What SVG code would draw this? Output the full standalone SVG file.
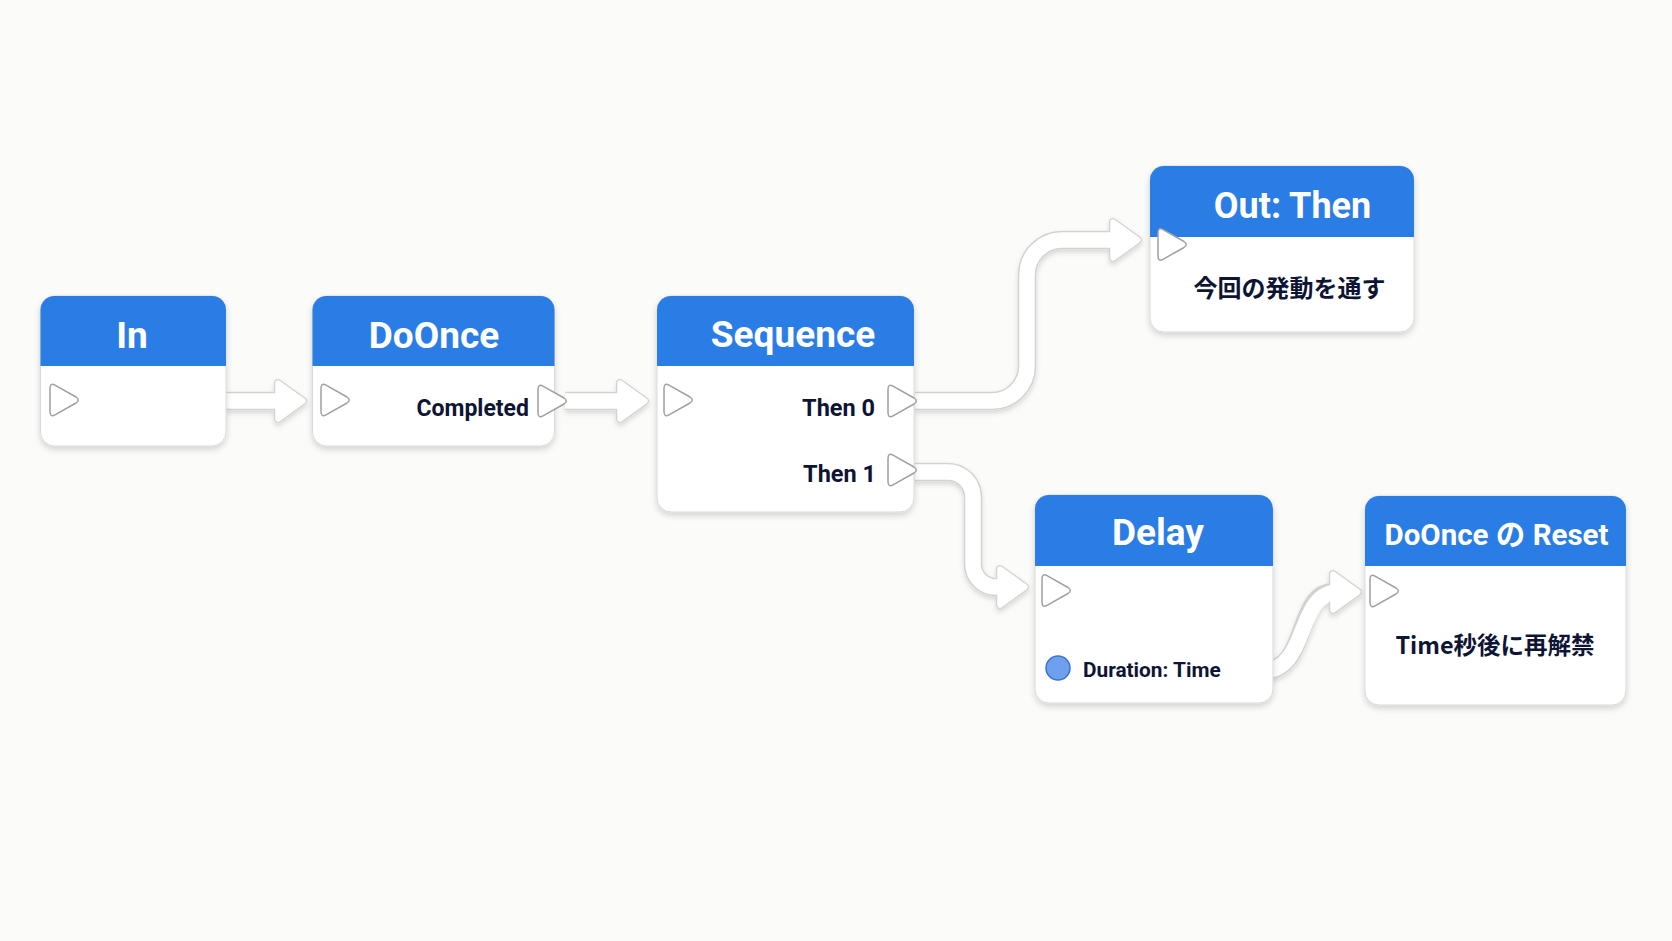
<svg xmlns="http://www.w3.org/2000/svg" xmlns:xlink="http://www.w3.org/1999/xlink" width="1672" height="941" viewBox="0 0 1672 941">
<style>
.bg{fill:#fbfbfa}
.body{fill:#ffffff;stroke:#d9d9d9;stroke-width:1}
.hdr{fill:#2b7de6}
.title{font-family:Roboto,"Noto Sans CJK JP",sans-serif;font-weight:700;fill:#ffffff;text-anchor:middle}
.lbl{font-family:Roboto,"Noto Sans CJK JP",sans-serif;font-weight:700;fill:#0e1534}
.jp{font-family:"Noto Sans CJK JP",sans-serif;font-weight:700;fill:#0e1534;text-anchor:middle}
.pin{fill:#ffffff;stroke:#a0a0a0;stroke-width:1.5;stroke-linejoin:round}
.wo{fill:none;stroke:#d2d2d2;stroke-width:18.5;stroke-linecap:butt}
.wi{fill:none;stroke:#ffffff;stroke-width:15.5;stroke-linecap:butt}
.ho{fill:#d2d2d2;stroke:#d2d2d2;stroke-width:8;stroke-linejoin:round}
.hi{fill:#ffffff;stroke:#ffffff;stroke-width:5.5;stroke-linejoin:round}
</style>
<defs>
<filter id="sh" x="-20%" y="-20%" width="140%" height="150%">
<feDropShadow dx="0" dy="3" stdDeviation="3" flood-color="#000" flood-opacity="0.16"/>
</filter>
<filter id="csh" x="-20%" y="-20%" width="140%" height="150%">
<feDropShadow dx="0" dy="3" stdDeviation="2.5" flood-color="#000" flood-opacity="0.14"/>
</filter>
<path id="pin" d="M0,-11.5 Q0,-17.5 5,-14.8 L26,-3 Q30.5,0 26,3 L5,14.8 Q0,17.5 0,11.5 Z"/>
<polygon id="head" points="-28,-18 -3,0 -28,18"/>
</defs>
<rect class="bg" x="0" y="0" width="1672" height="941"/>

<g id="connectors" filter="url(#csh)">
<g class="wo">
<path d="M226 401 H276"/>
<path d="M565 401 H620"/>
<path d="M915 401 H992 A35 35 0 0 0 1027 366 V275 A35 35 0 0 1 1062 240 H1114"/>
<path d="M915 472 H948 A25 25 0 0 1 973 497 V564 A23 23 0 0 0 996 587 H1001"/>
<path d="M1262 671 C1310 671 1295 592 1334 592"/>
</g>
<g class="ho">
<use xlink:href="#head" x="306" y="401"/>
<use xlink:href="#head" x="648" y="401"/>
<use xlink:href="#head" x="1141" y="240"/>
<use xlink:href="#head" x="1028" y="587"/>
<use xlink:href="#head" x="1361" y="592"/>
</g>
<g class="wi">
<path d="M226 401 H281"/>
<path d="M565 401 H625"/>
<path d="M915 401 H992 A35 35 0 0 0 1027 366 V275 A35 35 0 0 1 1062 240 H1119"/>
<path d="M915 472 H948 A25 25 0 0 1 973 497 V564 A23 23 0 0 0 996 587 H1006"/>
<path d="M1262 671 C1310 671 1295 592 1339 592"/>
</g>
<g class="hi">
<use xlink:href="#head" x="306" y="401"/>
<use xlink:href="#head" x="648" y="401"/>
<use xlink:href="#head" x="1141" y="240"/>
<use xlink:href="#head" x="1028" y="587"/>
<use xlink:href="#head" x="1361" y="592"/>
</g>
</g>

<g id="node-in">
<rect class="body" x="40.5" y="296" width="185.5" height="150" rx="14" filter="url(#sh)"/>
<path class="hdr" d="M40.5 366 V310 A14 14 0 0 1 54.5 296 H212 A14 14 0 0 1 226 310 V366 Z"/>
<text class="title" x="132" y="348" font-size="37">In</text>
<use class="pin" xlink:href="#pin" x="50" y="400"/>
</g>

<g id="node-doonce">
<rect class="body" x="312.5" y="296" width="242" height="150" rx="14" filter="url(#sh)"/>
<path class="hdr" d="M312.5 366 V310 A14 14 0 0 1 326.5 296 H540.5 A14 14 0 0 1 554.5 310 V366 Z"/>
<text class="title" x="434" y="348" font-size="37">DoOnce</text>
<use class="pin" xlink:href="#pin" x="321" y="400"/>
<text class="lbl" x="529" y="415.5" font-size="23" text-anchor="end">Completed</text>
<use class="pin" xlink:href="#pin" x="538" y="401"/>
</g>

<g id="node-sequence">
<rect class="body" x="657" y="296" width="257" height="216" rx="14" filter="url(#sh)"/>
<path class="hdr" d="M657 366 V310 A14 14 0 0 1 671 296 H900 A14 14 0 0 1 914 310 V366 Z"/>
<text class="title" x="793" y="347" font-size="37">Sequence</text>
<use class="pin" xlink:href="#pin" x="664" y="400"/>
<text class="lbl" x="875" y="415.5" font-size="23.5" text-anchor="end">Then 0</text>
<use class="pin" xlink:href="#pin" x="888" y="401"/>
<text class="lbl" x="876" y="481.5" font-size="23.5" text-anchor="end">Then 1</text>
<use class="pin" xlink:href="#pin" x="888" y="470"/>
</g>

<g id="node-out-then">
<rect class="body" x="1150" y="166" width="264" height="166" rx="14" filter="url(#sh)"/>
<path class="hdr" d="M1150 237 V180 A14 14 0 0 1 1164 166 H1400 A14 14 0 0 1 1414 180 V237 Z"/>
<text class="title" x="1292.5" y="218" font-size="36">Out: Then</text>
<use class="pin" xlink:href="#pin" x="1158" y="244.5"/>
<text class="jp" x="1289.5" y="297" font-size="24">今回の発動を通す</text>
</g>

<g id="node-delay">
<rect class="body" x="1035" y="495" width="238" height="208" rx="14" filter="url(#sh)"/>
<path class="hdr" d="M1035 566 V509 A14 14 0 0 1 1049 495 H1259 A14 14 0 0 1 1273 509 V566 Z"/>
<text class="title" x="1158" y="545" font-size="37">Delay</text>
<use class="pin" xlink:href="#pin" x="1042" y="590.5"/>
<circle cx="1058" cy="668" r="12" fill="#6fa0ee" stroke="#3a72d6" stroke-width="1.5"/>
<text class="lbl" x="1083" y="676.5" font-size="20.8">Duration: Time</text>
</g>

<g id="node-reset">
<rect class="body" x="1365" y="496" width="261" height="209" rx="14" filter="url(#sh)"/>
<path class="hdr" d="M1365 566 V510 A14 14 0 0 1 1379 496 H1612 A14 14 0 0 1 1626 510 V566 Z"/>
<text class="title" x="1496.5" y="545" font-size="29.5">DoOnce の Reset</text>
<use class="pin" xlink:href="#pin" x="1370" y="591"/>
<text class="jp" x="1495" y="654" font-size="23.5">Time秒後に再解禁</text>
</g>
</svg>
